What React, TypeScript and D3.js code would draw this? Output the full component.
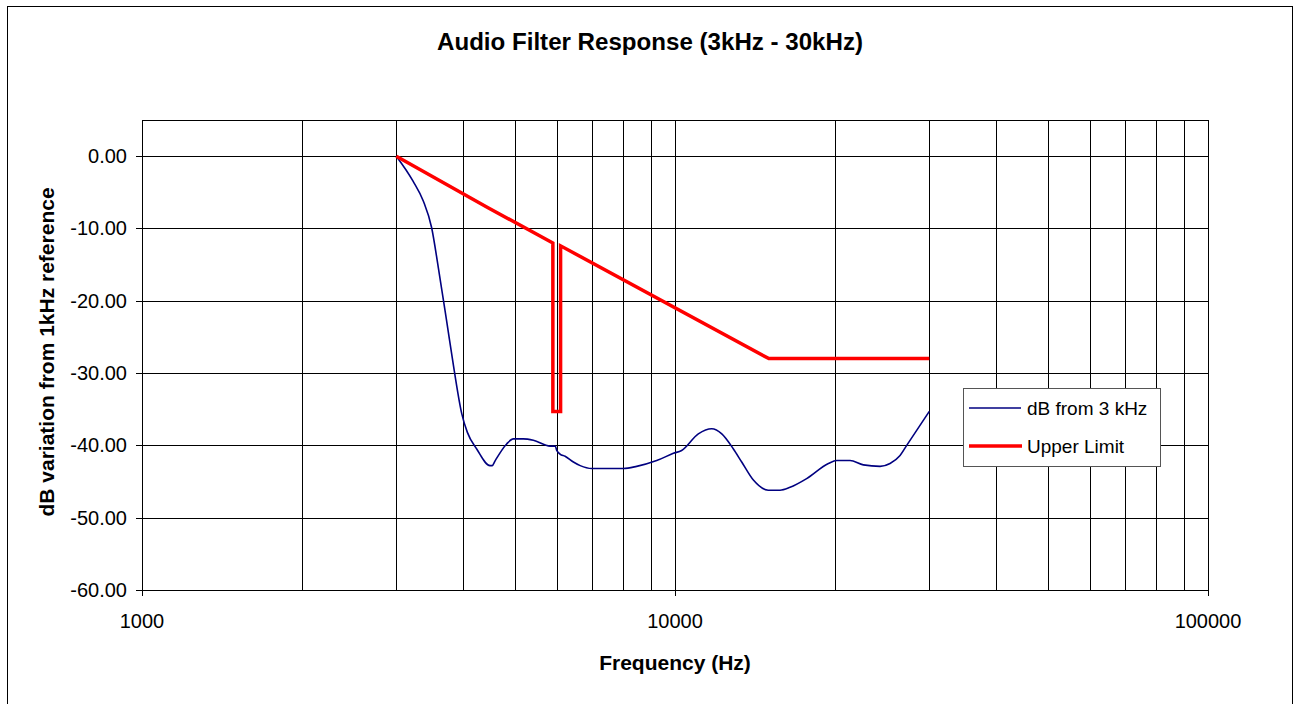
import React from "react";
import * as d3 from "d3";

const title = "Audio Filter Response (3kHz - 30kHz)";
const xTitle = "Frequency (Hz)";
const yTitle = "dB variation from 1kHz reference";

const responseFreq = [3000, 3225, 3371, 3495, 3597, 3729, 3850, 3980, 4078, 4246, 4497, 4540, 4600, 4832, 4975, 5190, 5423, 5830, 5960, 6000, 6085, 6220, 6447, 6640, 6980, 8000, 8475, 9240, 9930, 10290, 11060, 11720, 12240, 12870, 13340, 14030, 14960, 15740, 16440, 17660, 19400, 20110, 21300, 22560, 24250, 25320, 26440, 27210, 30000];
const responseDb = [0, -3.45, -6.2, -9.9, -15.4, -22.8, -29.5, -35.6, -38.2, -40.5, -42.8, -42.8, -42.1, -39.8, -39.1, -39.1, -39.3, -40.1, -40.1, -40.7, -41.2, -41.5, -42.3, -42.8, -43.2, -43.2, -42.9, -42.1, -41.1, -40.7, -38.4, -37.7, -38.4, -40.5, -42.3, -44.8, -46.2, -46.2, -45.8, -44.6, -42.5, -42.1, -42.1, -42.7, -42.9, -42.5, -41.4, -40.0, -35.3];

const limitFreq = [3000, 4450, 5900, 5900, 6100, 6100, 15000, 30000];
const limitDb = [0, -7.1, -12.0, -35.3, -35.3, -12.4, -28.0, -28.0];

const yTicks = [0, -10, -20, -30, -40, -50, -60];
const xMajorTicks = [1000, 10000, 100000];
const seriesNames = ["dB from 3 kHz", "Upper Limit"];

const W = 1295, H = 704;
const L = 142, R = 1208, T = 120, B = 590;
const font = "'Liberation Sans', Arial, sans-serif";

export default function App() {
  const x = d3.scaleLog().domain([1000, 100000]).range([L, R]);
  const y = d3.scaleLinear().domain([-60, 5]).range([B, T]);
  const gridX: number[] = [];
  for (let d = 1000; d < 100000; d *= 10) for (let k = 1; k < 10; k++) gridX.push(d * k);
  gridX.push(100000);

  const resp = responseFreq.map((f, i) => [f, responseDb[i]] as [number, number]);
  const lim = limitFreq.map((f, i) => [f, limitDb[i]] as [number, number]);
  const line = d3.line<[number, number]>().x(d => x(d[0])).y(d => y(d[1]));
  const curve = d3.line<[number, number]>().x(d => x(d[0])).y(d => y(d[1])).curve(d3.curveMonotoneX);

  const lgX = 963, lgY = 388;
  return (
    <svg width={W} height={H} style={{ position: "absolute", left: 0, top: 0 }} fontFamily={font}>
      <rect x={7.5} y={6.5} width={1285} height={720} fill="white" stroke="black" strokeWidth={1} />
      <text x={650} y={50} textAnchor="middle" fontSize={23} fontWeight="bold" textLength={426} lengthAdjust="spacingAndGlyphs">{title}</text>
      {/* grid */}
      {gridX.map(f => (
        <line key={"gx" + f} x1={Math.round(x(f)) + 0.5} x2={Math.round(x(f)) + 0.5} y1={T} y2={B} stroke="black" strokeWidth={1} />
      ))}
      {yTicks.map(v => (
        <line key={"gy" + v} x1={L} x2={R} y1={Math.round(y(v)) + 0.5} y2={Math.round(y(v)) + 0.5} stroke="black" strokeWidth={1} />
      ))}
      <line x1={L} x2={R} y1={T + 0.5} y2={T + 0.5} stroke="black" />
      {/* axes ticks */}
      {yTicks.map(v => (
        <g key={"yt" + v}>
          <line x1={L - 6} x2={L} y1={Math.round(y(v)) + 0.5} y2={Math.round(y(v)) + 0.5} stroke="black" />
          <text x={127} y={y(v) + 7} textAnchor="end" fontSize={20}>{v.toFixed(2)}</text>
        </g>
      ))}
      {xMajorTicks.map(f => (
        <g key={"xt" + f}>
          <line x1={Math.round(x(f)) + 0.5} x2={Math.round(x(f)) + 0.5} y1={B} y2={B + 6} stroke="black" />
          <text x={x(f)} y={628} textAnchor="middle" fontSize={20}>{f}</text>
        </g>
      ))}
      <text x={675} y={670} textAnchor="middle" fontSize={21} fontWeight="bold">{xTitle}</text>
      <text transform={`translate(54,${(T + B) / 2 - 3}) rotate(-90)`} textAnchor="middle" fontSize={21} fontWeight="bold">{yTitle}</text>
      {/* series */}
      <path d={curve(resp) || ""} fill="none" stroke="#000080" strokeWidth={1.6} />
      <path d={line(lim) || ""} fill="none" stroke="#ff0000" strokeWidth={3.5} strokeLinejoin="miter" />
      {/* legend */}
      <rect x={lgX + 0.5} y={lgY + 0.5} width={197} height={78} fill="white" stroke="#555" strokeWidth={1} />
      <line x1={969} x2={1021} y1={408} y2={408} stroke="#000080" strokeWidth={1.6} />
      <text x={1027} y={415} fontSize={19}>{seriesNames[0]}</text>
      <line x1={969} x2={1022} y1={446} y2={446} stroke="#ff0000" strokeWidth={3.5} />
      <text x={1027} y={453} fontSize={19}>{seriesNames[1]}</text>
    </svg>
  );
}
